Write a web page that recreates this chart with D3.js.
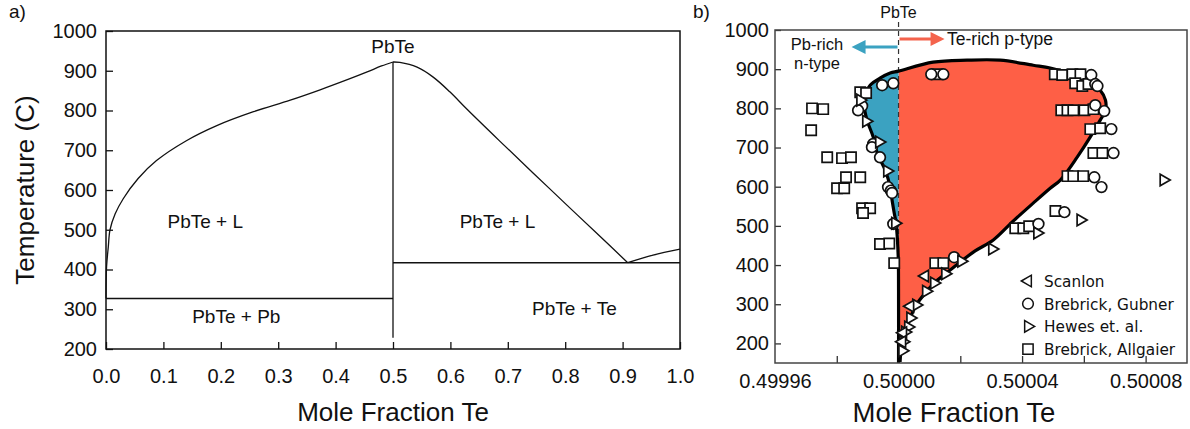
<!DOCTYPE html>
<html><head><meta charset="utf-8">
<script src="https://cdn.jsdelivr.net/npm/d3@7"></script>
<style>
html,body{margin:0;padding:0;background:#fff;}
svg{display:block;font-family:"Liberation Sans",Arial,Helvetica,sans-serif;}
</style></head>
<body><svg id="c" width="1190" height="429"></svg>
<script>
// ---------- Panel a data ----------
const aXTicks = [0,0.1,0.2,0.3,0.4,0.5,0.6,0.7,0.8,0.9,1.0];
const aYTicks = [200,300,400,500,600,700,800,900,1000];
const pbLiqX = [0.0,0.001,0.004,0.007,0.016,0.03,0.056,0.088,0.14,0.193,0.257,0.321,0.373,0.425,0.455,0.48,0.5];
const pbLiqT = [327,407,457,500,540,578,629,674,724,762,797,826,852,880,897,912,922];
const teLiqX = [0.5,0.512,0.542,0.57,0.599,0.629,0.686,0.744,0.803,0.861,0.909];
const teLiqT = [922,921,909,884,847,803,723,643,562,483,417];
const teSideX = [0.909,0.953,1.0];
const teSideT = [417,436,451];
const pbEutecticT = 327, teEutecticT = 417, pbteX = 0.5, pbteLowT = 228;
const aRegionLabels = ["PbTe + L","PbTe + Pb","PbTe + L","PbTe + Te","PbTe"];
const aRegionX = [0.173,0.227,0.682,0.816,0.5];
const aRegionT = [504,266,504,285,945];

// ---------- Panel b data ----------
const bXTicks = [0.49996,0.49998,0.50000,0.50002,0.50004,0.50006,0.50008];
const bXLabels = [0.49996,0.50000,0.50004,0.50008];
const bYTicks = [200,300,400,500,600,700,800,900,1000];
const solidusX = [0.5,0.5,0.4999999,0.4999992,0.4999986,0.4999979,0.4999973,0.4999957,0.4999931,0.4999918,0.4999898,0.4999888,0.4999895,0.4999908,0.499994,0.4999973,0.5,0.5000112,0.5000222,0.5000329,0.5000436,0.5000491,0.5000547,0.5000611,0.5000653,0.500067,0.500067,0.5000653,0.5000621,0.5000579,0.5000524,0.5000491,0.5000436,0.5000371,0.5000307,0.5000248,0.50002,0.5000151,0.5000115,0.5000089,0.5000057,0.5000038,0.5000025,0.5000015,0.5000008,0.5000005];
const solidusT = [150,336,420,507,533,566,599,642,686,727,770,813,841,859,877,890,895,918,923,923,910,903,890,872,846,821,795,770,727,676,617,596,558,512,464,436,408,377,354,331,298,265,239,214,183,153];

const scanlonX = [0.5000086,0.5000038,0.5000015,0.5000012];
const scanlonT = [372,295,227,204];
const gubnerX = [0.4999947,0.4999983,0.4999882,0.4999869,0.4999918,0.4999914,0.499994,0.4999966,0.4999975,0.4999979,0.4999983,
  0.5000106,0.5000145,0.5000624,0.5000637,0.5000644,0.5000637,0.5000666,0.5000689,0.5000696,0.5000634,0.5000657,0.5000537,0.5000453,0.500018];
const gubnerT = [859,864,806,795,709,701,675,599,590,584,505,
  887,887,885,862,857,808,793,747,686,624,599,535,505,420];
const hewesX = [0.4999876,0.4999895,0.4999937,0.4999963,0.4999989,
  0.5000858,0.5000589,0.5000449,0.5000303,0.5000203,0.5000151,0.5000115,0.5000089,0.5000057,0.5000038,0.5000031,0.5000021,0.5000015,0.5000012];
const hewesT = [821,767,714,640,507,
  617,515,482,441,410,378,354,333,298,265,242,229,204,181];
const allgaierX = [0.4999876,0.4999895,0.499972,0.4999756,0.4999717,0.4999769,0.4999817,0.4999846,0.499983,0.4999876,0.4999801,0.4999824,0.4999882,0.4999908,0.4999885,0.499994,0.499997,0.4999986,
  0.5000125,0.5000506,0.500053,0.5000563,0.5000589,0.5000572,0.5000595,0.5000615,
  0.5000527,0.5000547,0.5000566,0.5000602,0.5000631,0.5000621,0.5000653,0.5000631,0.500066,
  0.5000547,0.5000566,0.5000598,0.5000508,0.5000378,0.5000404,0.5000423,0.5000119,0.5000145];
const allgaierT = [841,839,800,798,744,675,673,675,624,624,596,596,545,545,533,454,455,405,
  887,887,885,887,887,864,857,862,
  795,795,795,795,798,747,749,686,686,
  627,627,627,538,494,494,499,405,405];
const legendLabels = ["Scanlon","Brebrick, Gubner","Hewes et. al.","Brebrick, Allgaier"];
const legendShapes = ["left","circle","right","square"];

// ---------- drawing ----------
const svg = d3.select("#c");
const FONT = '"Liberation Sans",Arial,Helvetica,sans-serif';
const zip = (X,T)=>X.map((x,i)=>[x,T[i]]);

// Panel a
const xA = d3.scaleLinear([0,1],[106,680]);
const yA = d3.scaleLinear([200,1000],[349,31]);
const gA = svg.append("g");
const curveA = d3.line().x(d=>xA(d[0])).y(d=>yA(d[1])).curve(d3.curveCatmullRom.alpha(0.5));
[[pbLiqX,pbLiqT],[teLiqX,teLiqT],[teSideX,teSideT]].forEach(([X,T])=>{
  gA.append("path").attr("d", curveA(zip(X,T))).attr("fill","none").attr("stroke","#111").attr("stroke-width",1.3);
});
gA.append("line").attr("x1",xA(0)).attr("x2",xA(pbteX)).attr("y1",yA(pbEutecticT)).attr("y2",yA(pbEutecticT)).attr("stroke","#111").attr("stroke-width",1.3);
gA.append("line").attr("x1",xA(pbteX)).attr("x2",xA(1)).attr("y1",yA(teEutecticT)).attr("y2",yA(teEutecticT)).attr("stroke","#111").attr("stroke-width",1.3);
gA.append("line").attr("x1",xA(pbteX)).attr("x2",xA(pbteX)).attr("y1",yA(922)).attr("y2",yA(pbteLowT)).attr("stroke","#111").attr("stroke-width",1.3);

const axA_b = gA.append("g").attr("transform",`translate(0,${yA(200)})`)
  .call(d3.axisBottom(xA).tickValues(aXTicks).tickFormat(d3.format(".1f")).tickSizeInner(-7).tickSizeOuter(0).tickPadding(20));
const axA_l = gA.append("g").attr("transform",`translate(${xA(0)},0)`)
  .call(d3.axisLeft(yA).tickValues(aYTicks).tickFormat(d3.format("d")).tickSizeInner(-7).tickSizeOuter(0).tickPadding(9));
[axA_b,axA_l].forEach(g=>{g.selectAll("text").attr("font-size",20).attr("fill","#111").attr("font-family",FONT);
  g.selectAll("line").attr("stroke","#111").attr("stroke-width",1.3); g.select(".domain").remove();});
gA.append("rect").attr("x",xA(0)).attr("y",yA(1000)).attr("width",xA(1)-xA(0)).attr("height",yA(200)-yA(1000))
  .attr("fill","none").attr("stroke","#111").attr("stroke-width",1.5);
gA.selectAll("text.reg").data(aRegionLabels).join("text").attr("class","reg")
  .attr("x",(d,i)=>xA(aRegionX[i])).attr("y",(d,i)=>yA(aRegionT[i])).attr("text-anchor","middle")
  .attr("font-size",19).attr("fill","#111").text(d=>d);
gA.append("text").attr("x",xA(0.5)).attr("y",421).attr("text-anchor","middle").attr("font-size",26).attr("fill","#111").text("Mole Fraction Te");
gA.append("text").attr("transform",`translate(34,${yA(600)}) rotate(-90)`).attr("text-anchor","middle").attr("font-size",26).attr("fill","#111").text("Temperature (C)");
gA.append("text").attr("x",9).attr("y",18).attr("font-size",19).attr("fill","#111").text("a)");

// Panel b
const xB = d3.scaleLinear([0.49996,0.5000934],[775,1187]);
const yB = d3.scaleLinear([150,1000],[363,30]);
const gB = svg.append("g");
const defs = svg.append("defs");
defs.append("clipPath").attr("id","clipL").append("rect").attr("x",xB(0.49996)).attr("y",yB(1000)).attr("width",xB(0.5)-xB(0.49996)).attr("height",yB(150)-yB(1000));
defs.append("clipPath").attr("id","clipR").append("rect").attr("x",xB(0.5)).attr("y",yB(1000)).attr("width",xB(0.5000934)-xB(0.5)).attr("height",yB(150)-yB(1000));
const solPts = zip(solidusX,solidusT);
const solLine = d3.line().x(d=>xB(d[0])).y(d=>yB(d[1])).curve(d3.curveCatmullRom.alpha(0.5));
gB.append("path").attr("d",solLine(solPts)+"Z").attr("fill","#fe5f46").attr("clip-path","url(#clipR)");
gB.append("path").attr("d",solLine(solPts)+"Z").attr("fill","#3ba2c1").attr("clip-path","url(#clipL)");
gB.append("line").attr("x1",xB(0.5)).attr("x2",xB(0.5)).attr("y1",22).attr("y2",yB(150))
  .attr("stroke","#333").attr("stroke-width",1.2).attr("stroke-dasharray","5,4");
gB.append("path").attr("d",solLine(solPts)).attr("fill","none").attr("stroke","#000").attr("stroke-width",3.2).attr("stroke-linejoin","round");

// axes b
const axB_b = gB.append("g").attr("transform",`translate(0,${yB(150)})`)
  .call(d3.axisBottom(xB).tickValues(bXTicks).tickFormat(d=>bXLabels.some(v=>Math.abs(v-d)<1e-9)?d3.format(".5f")(d):"").tickSizeInner(-7).tickSizeOuter(0).tickPadding(11));
const axB_l = gB.append("g").attr("transform",`translate(${xB(0.49996)},0)`)
  .call(d3.axisLeft(yB).tickValues(bYTicks).tickFormat(d3.format("d")).tickSizeInner(-6).tickSizeOuter(0).tickPadding(6));
[axB_b,axB_l].forEach(g=>{g.selectAll("text").attr("font-size",20).attr("fill","#111").attr("font-family",FONT);
  g.selectAll("line").attr("stroke","#333").attr("stroke-width",1.3); g.select(".domain").remove();});
axB_b.selectAll(".tick").filter(d=>Math.abs(d-0.49996)<1e-9||Math.abs(d-0.5)<1e-9).select("line").remove();
gB.append("rect").attr("x",xB(0.49996)).attr("y",yB(1000)).attr("width",xB(0.5000934)-xB(0.49996)).attr("height",yB(150)-yB(1000))
  .attr("fill","none").attr("stroke","#444").attr("stroke-width",1.5);

// markers
function shapePath(kind){
  if(kind==="circle") return d3.symbol(d3.symbolCircle,90)();
  if(kind==="square") return d3.symbol(d3.symbolSquare,105)();
  return d3.symbol(d3.symbolTriangle,58)();
}
function drawMarkers(X,T,kind){
  gB.append("g").selectAll("path").data(zip(X,T)).join("path")
    .attr("d",shapePath(kind))
    .attr("transform",d=>`translate(${xB(d[0])},${yB(d[1])})`+(kind==="right"?" rotate(90)":kind==="left"?" rotate(-90)":""))
    .attr("fill","#fff").attr("stroke","#111").attr("stroke-width",1.7);
}
drawMarkers(allgaierX,allgaierT,"square");
drawMarkers(gubnerX,gubnerT,"circle");
drawMarkers(hewesX,hewesT,"right");
drawMarkers(scanlonX,scanlonT,"left");

// labels
gB.append("text").attr("x",xB(0.5)).attr("y",18).attr("text-anchor","middle").attr("font-size",16).attr("fill","#111").text("PbTe");
gB.append("text").attr("x",693).attr("y",18).attr("font-size",19).attr("fill","#111").text("b)");
gB.append("text").attr("x",954).attr("y",422).attr("text-anchor","middle").attr("font-size",27.5).attr("fill","#111").text("Mole Fraction Te");
// arrows
const x0 = xB(0.5);
gB.append("line").attr("x1",x0-1).attr("x2",x0-36).attr("y1",47).attr("y2",47).attr("stroke","#3ba2c1").attr("stroke-width",3);
gB.append("path").attr("d",`M${x0-47},47 L${x0-33},40 L${x0-33},54 Z`).attr("fill","#3ba2c1");
gB.append("line").attr("x1",x0+1).attr("x2",x0+35).attr("y1",39).attr("y2",39).attr("stroke","#f4634c").attr("stroke-width",3);
gB.append("path").attr("d",`M${x0+46},39 L${x0+32},32 L${x0+32},46 Z`).attr("fill","#f4634c");
gB.append("text").attr("x",817).attr("y",50).attr("text-anchor","middle").attr("font-size",16.5).attr("fill","#111").text("Pb-rich");
gB.append("text").attr("x",817).attr("y",69).attr("text-anchor","middle").attr("font-size",16.5).attr("fill","#111").text("n-type");
gB.append("text").attr("x",947).attr("y",45).attr("font-size",17.5).attr("fill","#111").text("Te-rich p-type");

// legend
const leg = gB.append("g").attr("transform","translate(1028,281)");
legendLabels.forEach((lab,i)=>{
  const kind = legendShapes[i];
  leg.append("path").attr("d",shapePath(kind))
    .attr("transform",`translate(0,${i*22.7})`+(kind==="right"?" rotate(90)":kind==="left"?" rotate(-90)":""))
    .attr("fill","#fff").attr("stroke","#111").attr("stroke-width",1.5);
  leg.append("text").attr("x",16).attr("y",i*22.7+6).attr("fill","#111").attr("font-family",'"DejaVu Sans",sans-serif').attr("font-size",15.3).text(lab);
});
</script></body></html>
